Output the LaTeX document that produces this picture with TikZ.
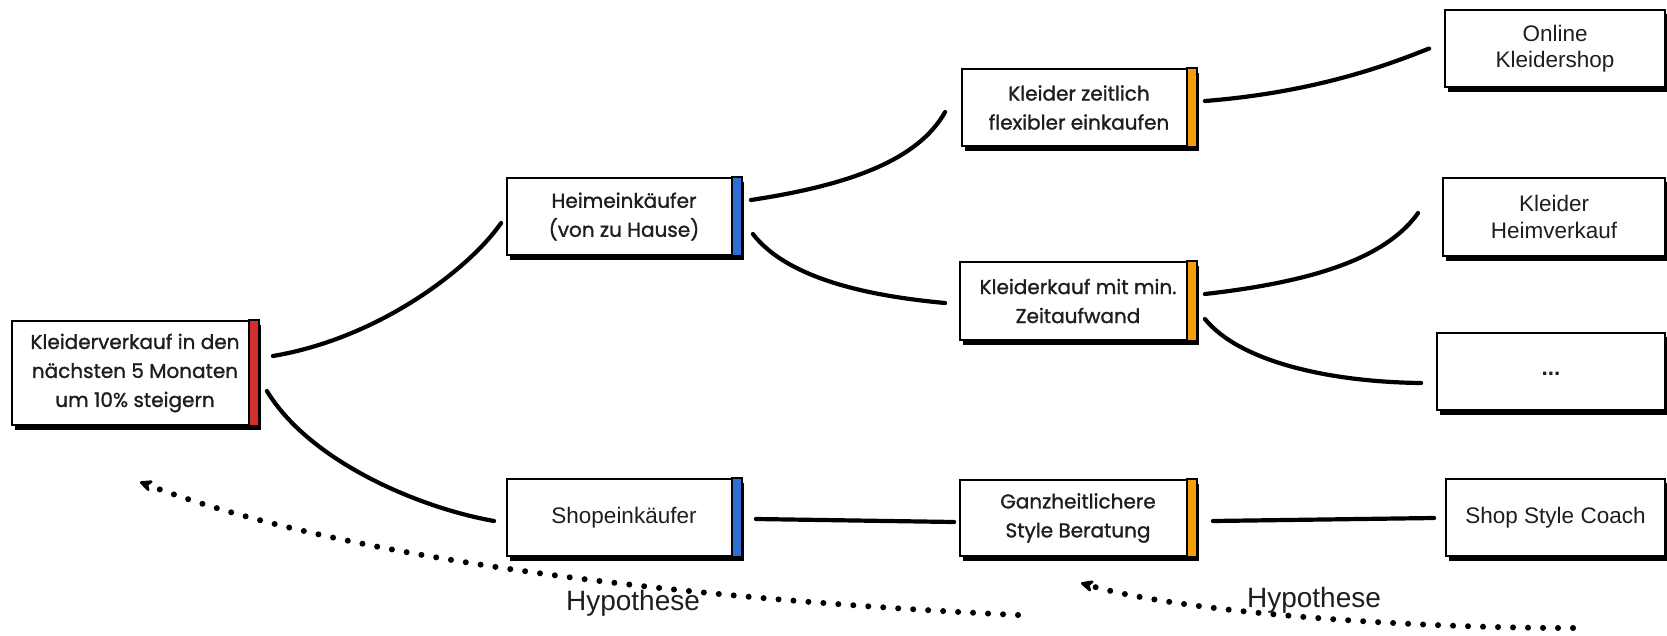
\documentclass[tikz,border=0pt]{standalone}
\usepackage{fontspec}
\setmainfont{Liberation Sans}
\newfontfamily\handfont{Poppins}[FakeBold=1.2]
\usetikzlibrary{arrows.meta,calc}
\definecolor{txt}{HTML}{1E1E1E}
\definecolor{barred}{HTML}{D0302E}
\definecolor{barblue}{HTML}{2E6FD6}
\definecolor{barorange}{HTML}{F5A00A}
\newcommand\mkbox[8]{%
  \fill[black] (#3-#5/2+3,#4-#6/2+4) rectangle (#3+#5/2+3,#4+#6/2+4.5);
  \node[box,#1,minimum width=#5pt,minimum height=#6pt] (#2) at (#3,#4) {#8};
  \if\relax\detokenize{#7}\relax\else
  \draw[line width=1.3pt,fill=#7] ([xshift=-10pt]#2.north east) rectangle (#2.south east);
  \fi}
\begin{document}
\begin{tikzpicture}[x=1pt,y=-1pt,
  box/.style={draw=black,line width=1.8pt,fill=white,inner sep=0pt,align=center,text=txt},
  hand/.style={font=\handfont\fontsize{20}{29}\selectfont},
  arial/.style={font=\fontsize{22.5}{26.5}\selectfont},
  conn/.style={line width=4.2pt,line cap=round,draw=black},
  hypo/.style={line width=6pt,line cap=round,dash pattern=on 0pt off 15pt,
    -{Stealth[length=16pt,width=15pt,round]}},
  lbl/.style={font=\fontsize{28}{30}\selectfont,text=txt}]
\useasboundingbox (0,0) rectangle (1667,635);
% boxes
\mkbox{hand}{root}{135}{373}{246}{104}{barred}{Kleiderverkauf in den\\nächsten 5 Monaten\\um 10\% steigern}
\mkbox{hand}{heim}{624}{216.5}{234}{77}{barblue}{Heimeinkäufer\\(von zu Hause)}
\mkbox{arial}{shop}{624}{517.5}{234}{77}{barblue}{Shopeinkäufer}
\mkbox{hand}{zeit}{1079}{107.5}{234}{77}{barorange}{Kleider zeitlich\\flexibler einkaufen}
\mkbox{hand}{kauf}{1078}{301}{236}{78}{barorange}{Kleiderkauf mit min.\\Zeitaufwand}
\mkbox{hand}{ganz}{1078}{518}{236}{76}{barorange}{Ganzheitlichere\\Style Beratung}
\mkbox{arial}{online}{1555}{48.5}{220}{77}{}{Online\\Kleidershop}
\mkbox{arial}{heimv}{1554}{217}{222}{78}{}{Kleider\\Heimverkauf}
\mkbox{arial}{dots}{1551}{371.5}{228}{77}{}{\raisebox{-7pt}{\textbf{...}}}
\mkbox{arial}{coach}{1555.5}{517.5}{219}{77}{}{Shop Style Coach}
% connectors
\draw[conn] ([shift={(14,-17)}]root.east) .. controls (380,338) and (470,268) .. ([shift={(-5,6.5)}]heim.west);
\draw[conn] ([shift={(8,18)}]root.east) .. controls (310,462) and (420,508) .. ([shift={(-12,3.5)}]shop.west);
\draw[conn] ([shift={(9,-16.5)}]heim.east) .. controls (850,185) and (918,160) .. ([shift={(-16,4.5)}]zeit.west);
\draw[conn] ([shift={(11,17.5)}]heim.east) .. controls (790,282) and (880,297) .. ([shift={(-14,2)}]kauf.west);
\draw[conn] ([shift={(8,-6.5)}]zeit.east) .. controls (1320,92) and (1395,62) .. ([shift={(-15,0)}]online.west);
\draw[conn] ([shift={(8,-7)}]kauf.east) .. controls (1330,280) and (1390,252) .. ([shift={(-24,-4)}]heimv.west);
\draw[conn] ([shift={(8,18)}]kauf.east) .. controls (1240,362) and (1330,382) .. ([shift={(-15,11.5)}]dots.west);
\draw[conn] ([shift={(14,1.5)}]shop.east) -- ([shift={(-5,4)}]ganz.west);
\draw[conn] ([shift={(16,3)}]ganz.east) -- ([shift={(-11,0.5)}]coach.west);
% hypothesis arrows
\coordinate (h1s) at (1018,615);
\coordinate (h1e) at (140,482);
\coordinate (h2s) at (1573,628);
\coordinate (h2e) at (1081,583);
\draw[hypo] (h1s) .. controls (700,600) and (350,562) .. (h1e);
\draw[hypo] (h2s) .. controls (1400,628) and (1180,612) .. (h2e);
\node[lbl] (l1) at (633,603) {Hypothese};
\node[lbl] (l2) at (1314,600) {Hypothese};
\end{tikzpicture}
\end{document}
